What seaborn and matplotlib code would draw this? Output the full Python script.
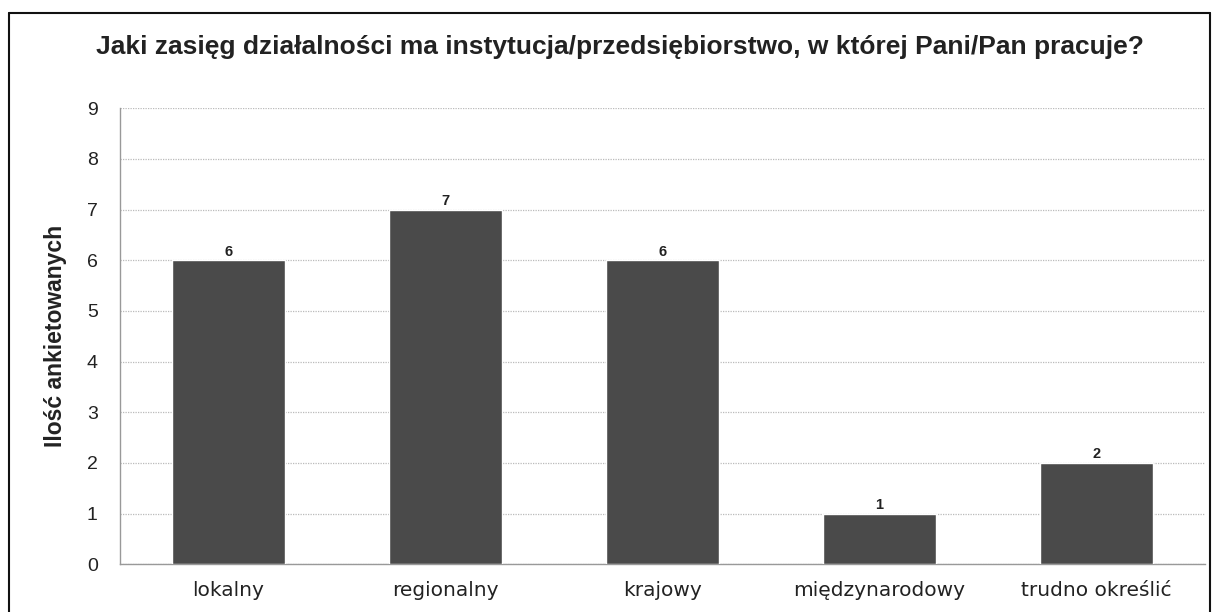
import pandas as pd
import matplotlib.pyplot as plt
import seaborn as sns
from matplotlib.lines import Line2D

# data
categories = ['lokalny', 'regionalny', 'krajowy', 'międzynarodowy', 'trudno określić']
counts = [6, 7, 6, 1, 2]
y_ticks = list(range(0, 10))

df = pd.DataFrame({'zasieg': categories, 'ilosc': counts})

sns.set_style('white')
plt.rcParams['font.family'] = ['Liberation Sans', 'DejaVu Sans']

fig = plt.figure(figsize=(12.16, 6.12), dpi=100)
ax = fig.add_axes([120 / 1216, 0.078, 1085 / 1216, 0.745])

sns.barplot(data=df, x='zasieg', y='ilosc', color='#4a4a4a', width=0.52,
            saturation=1, ax=ax, zorder=3)

# value labels above bars
for i, v in enumerate(counts):
    ax.text(i, v + 0.03, str(v), ha='center', va='bottom', fontsize=10.5,
            fontweight='bold', color='#222222')

ax.set_ylim(0, 9)
ax.set_xlim(-0.5, len(categories) - 0.5)
ax.set_yticks(y_ticks)
ax.yaxis.grid(True, linestyle=(0, (1, 1)), color='#bbbbbb', linewidth=0.9, zorder=0)
ax.set_xlabel('')
ax.set_ylabel('Ilość ankietowanych', fontsize=16.5, fontweight='bold', labelpad=14,
              color='#222222')

ax.tick_params(axis='y', labelsize=14, length=0, pad=16, labelcolor='#222222')
ax.tick_params(axis='x', which='major', length=0, pad=12, labelsize=14.5,
               labelcolor='#222222')
ax.set_xticks([i + 0.5 for i in range(len(categories) - 1)], minor=True)
ax.tick_params(axis='x', which='minor', length=5, color='#999999', width=0.8)
for lab in ax.get_xticklabels():
    lab.set_family('DejaVu Sans')

for side in ['top', 'right']:
    ax.spines[side].set_visible(False)
for side in ['left', 'bottom']:
    ax.spines[side].set_color('#999999')
    ax.spines[side].set_linewidth(1.0)

fig.text(0.51, 1 - 47 / 612, 'Jaki zasięg działalności ma instytucja/przedsiębiorstwo, w której Pani/Pan pracuje?',
         ha='center', va='center', fontsize=19, fontweight='bold', color='#222222')

# outer frame of the chart
x0, x1, ytop = 8.5 / 1216, 1210 / 1216, 1 - 13 / 612
for xs, ys in [([x0, x0], [0, ytop]), ([x0, x1], [ytop, ytop]), ([x1, x1], [ytop, 0])]:
    fig.add_artist(Line2D(xs, ys, color='#111111', linewidth=1.5))

fig.savefig('out.png', dpi=100)
